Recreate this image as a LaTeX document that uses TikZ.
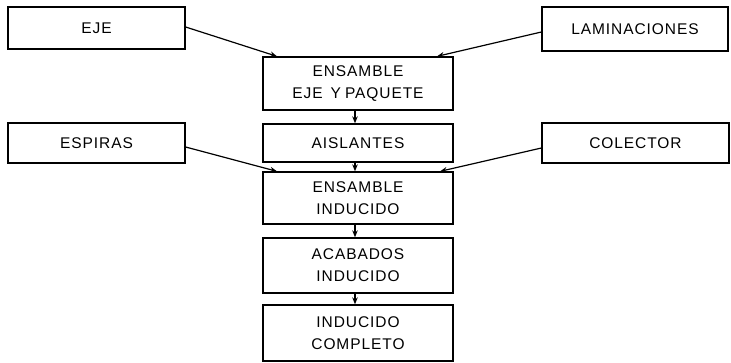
\documentclass[tikz,border=0pt]{standalone}
\usepackage{fontspec}
\setmainfont{Liberation Sans}[LetterSpace=6]
\usetikzlibrary{arrows.meta}
\begin{document}
\begin{tikzpicture}[x=1pt,y=-1pt,
  box/.style={draw,line width=1.3pt,inner sep=0pt,align=center,font=\fontsize{15.5}{22}\selectfont},
  conn/.style={line width=1.2pt,-{Stealth[length=7pt,width=5.5pt]}}]
\useasboundingbox (0,0) rectangle (731,362);
% side boxes
\node[box,minimum width=177pt,minimum height=42pt] (eje) at (96.5,28) {EJE};
\node[box,minimum width=186pt,minimum height=44pt] (lam) at (635,29) {LAMINACIONES};
\node[box,minimum width=177pt,minimum height=40pt] (esp) at (96.5,143) {ESPIRAS};
\node[box,minimum width=187pt,minimum height=40pt] (col) at (635.5,143) {COLECTOR};
% central column
\node[box,minimum width=190pt,minimum height=53pt] (ens1) at (358,83.5) {ENSAMBLE\\EJE\hspace{8pt}Y\hspace{4pt}PAQUETE};
\node[box,minimum width=190pt,minimum height=38pt] (ais) at (358,143) {AISLANTES};
\node[box,minimum width=190pt,minimum height=52pt] (ens2) at (358,198) {ENSAMBLE\\INDUCIDO};
\node[box,minimum width=190pt,minimum height=55pt] (aca) at (358,265.5) {ACABADOS\\INDUCIDO};
\node[box,minimum width=190pt,minimum height=56pt] (ind) at (358,333) {INDUCIDO\\COMPLETO};
% side connectors
\draw[conn] (eje.east |- 0,27) -- (ens1.north -| 277,0);
\draw[conn] (lam.west |- 0,32) -- (ens1.north -| 437,0);
\draw[conn] (esp.east |- 0,147) -- (ens2.north -| 277,0);
\draw[conn] (col.west |- 0,148) -- (ens2.north -| 440,0);
% vertical connectors
\draw[conn] (ens1.south -| 355,0) -- (ais.north -| 355,0);
\draw[conn] (ais.south -| 355,0) -- (ens2.north -| 355,0);
\draw[conn] (ens2.south -| 355,0) -- (aca.north -| 355,0);
\draw[conn] (aca.south -| 355,0) -- (ind.north -| 355,0);
\end{tikzpicture}
\end{document}
